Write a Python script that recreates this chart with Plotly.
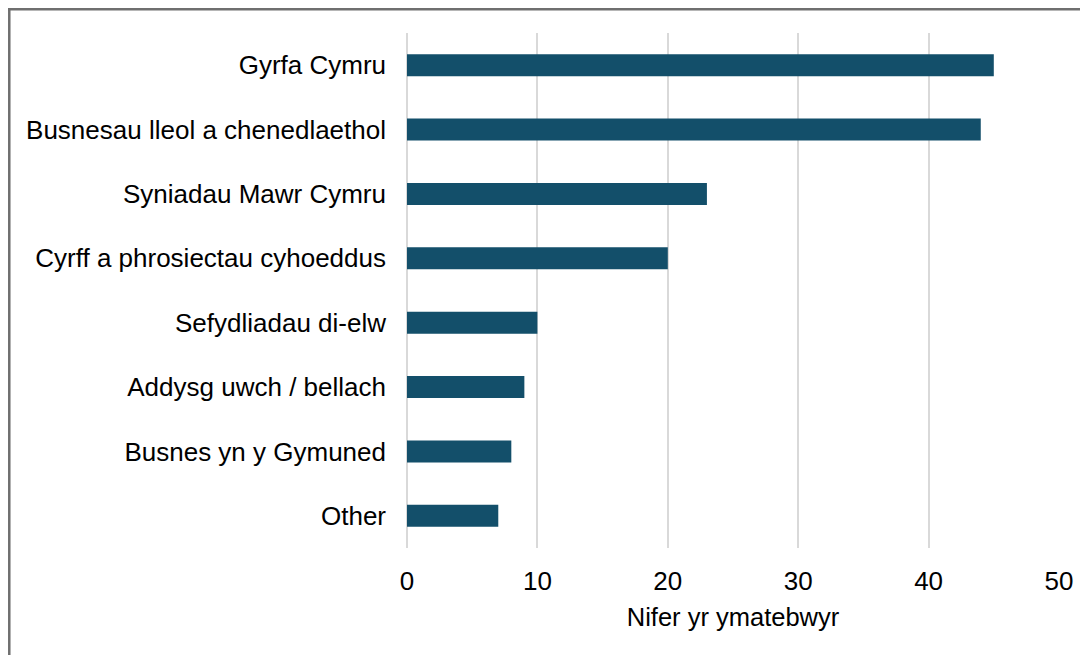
import plotly.graph_objects as go

# data
categories = [
    "Gyrfa Cymru",
    "Busnesau lleol a chenedlaethol",
    "Syniadau Mawr Cymru",
    "Cyrff a phrosiectau cyhoeddus",
    "Sefydliadau di-elw",
    "Addysg uwch / bellach",
    "Busnes yn y Gymuned",
    "Other",
]
counts = [45, 44, 23, 20, 10, 9, 8, 7]
x_ticks = [0, 10, 20, 30, 40, 50]

fig = go.Figure()
fig.add_trace(go.Bar(
    y=categories,
    x=counts,
    orientation="h",
    width=0.34,
    marker=dict(color="#134f6a", line=dict(width=0)),
))

# page body adds an 8px offset, so the figure is 8px smaller with margins shifted
fig.update_layout(
    width=1080,
    height=647,
    margin=dict(l=399, r=29, t=25, b=107),
    paper_bgcolor="white",
    plot_bgcolor="white",
    font=dict(family="Liberation Sans, Arial, sans-serif", size=26, color="#000000"),
    showlegend=False,
    bargap=0.66,
)

fig.update_xaxes(
    range=[0, 50],
    tickvals=x_ticks,
    showgrid=True,
    gridcolor="#d9d9d9",
    gridwidth=2,
    zeroline=True,
    zerolinecolor="#d9d9d9",
    zerolinewidth=2,
    showline=False,
    ticklabelstandoff=15,
    title=dict(text="Nifer yr ymatebwyr", standoff=13, font=dict(size=25.5)),
)
fig.update_yaxes(
    autorange="reversed",
    showgrid=False,
    showline=False,
    ticklabelstandoff=20,
)

# grey frame around the chart (left and top edges visible in the reference)
fig.add_shape(
    type="rect", xref="paper", yref="paper",
    x0=-0.6100, x1=1.2, y0=-0.4, y1=1.0461,
    line=dict(color="#6f6f6f", width=2.5),
    fillcolor="rgba(0,0,0,0)",
    layer="below",
)

fig.write_html("out.html")
